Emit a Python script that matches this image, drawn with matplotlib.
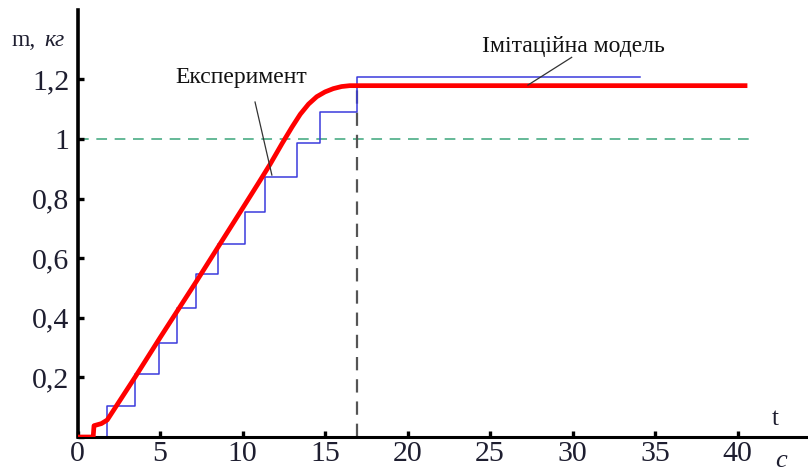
import matplotlib
matplotlib.use("Agg")
import matplotlib.pyplot as plt

# ---- data ----
exp_t = [0, 1.8, 3.48, 4.94, 6.05, 7.18, 8.53, 10.15, 11.36, 13.32, 14.7, 16.92, 34.1]
exp_m = [0, 0.104, 0.211, 0.316, 0.432, 0.546, 0.648, 0.756, 0.873, 0.986, 1.092, 1.208, 1.208]

model_t = [0, 0.95, 1.0, 1.45, 1.8, 3.48, 5.0, 7.18, 8.64, 10.0, 11.0, 11.67, 12.4, 13.0,
           13.5, 14.0, 14.5, 15.0, 15.5, 16.0, 16.5, 17.0, 40.6]
model_m = [0, 0, 0.038, 0.045, 0.057, 0.2, 0.333, 0.52, 0.648, 0.767, 0.855, 0.915, 0.985, 1.04,
           1.083, 1.117, 1.142, 1.158, 1.169, 1.176, 1.179, 1.179, 1.179]

ref_level = 1.0
t_end = 16.95

x_ticks = [0, 5, 10, 15, 20, 25, 30, 35, 40]
y_ticks = [0, 0.2, 0.4, 0.6, 0.8, 1.0, 1.2]
y_labels = ["", "0,2", "0,4", "0,6", "0,8", "1", "1,2"]

label_exp = "Експеримент"
label_model = "Імітаційна модель"

plt.rcParams['font.family'] = ['Liberation Serif', 'DejaVu Serif']

fig = plt.figure(figsize=(8.08, 4.72), dpi=100)
ax = fig.add_axes([77.5 / 808, (472 - 437) / 472, (808 - 77.5) / 808, 427 / 472])
ax.set_xlim(0, (808 - 77.5) / 16.5)
ax.set_ylim(0, 427 / 298)

ax.plot([0, 41], [ref_level, ref_level], color='#3aa57a', lw=1.1, dashes=(7, 5), zorder=1)
ax.plot([t_end, t_end], [0, 1.179], color='#555555', lw=1.6, dashes=(6, 4), zorder=1)
ax.plot(exp_t, exp_m, drawstyle='steps-post', color='#3b3bdc', lw=1.1, zorder=2)
ax.plot(model_t, model_m, color='#ff0000', lw=3.4, solid_capstyle='butt',
        solid_joinstyle='round', zorder=3)

for s in ['top', 'right']:
    ax.spines[s].set_visible(False)
ax.spines['left'].set_linewidth(2.6)
ax.spines['bottom'].set_linewidth(2.2)

ax.set_xticks(x_ticks)
ax.set_xticklabels([str(v) for v in x_ticks])
ax.set_yticks(y_ticks)
ax.set_yticklabels(y_labels)
ax.tick_params(axis='both', direction='in', length=4, width=2.4, labelsize=21.5,
               labelcolor='#1e1e30')
ax.tick_params(axis='x', pad=3)
ax.tick_params(axis='y', pad=6)

# annotations
ax.text(9.9, 1.205, label_exp, fontsize=17, ha='center', va='center', color='#111111')
ax.plot([10.76, 11.78], [1.124, 0.879], color='#333333', lw=0.9, zorder=4)
ax.text(30.05, 1.31, label_model, fontsize=17, ha='center', va='center', color='#111111')
ax.plot([29.95, 27.3], [1.274, 1.181], color='#333333', lw=0.9, zorder=4)

# axis labels
fig.text(12 / 808, 1 - 40 / 472, "m,", fontsize=17, ha='left', va='center', color='#1e1e30')
fig.text(44 / 808, 1 - 40 / 472, "кг", fontsize=17, style='italic', ha='left', va='center',
         color='#1e1e30')
fig.text(775 / 808, 1 - 419 / 472, "t", fontsize=18, ha='center', va='center', color='#1e1e30')
fig.text(781 / 808, 1 - 461 / 472, "c", fontsize=19, style='italic', ha='center', va='center',
         color='#1e1e30')

fig.savefig("out.png", dpi=100)
